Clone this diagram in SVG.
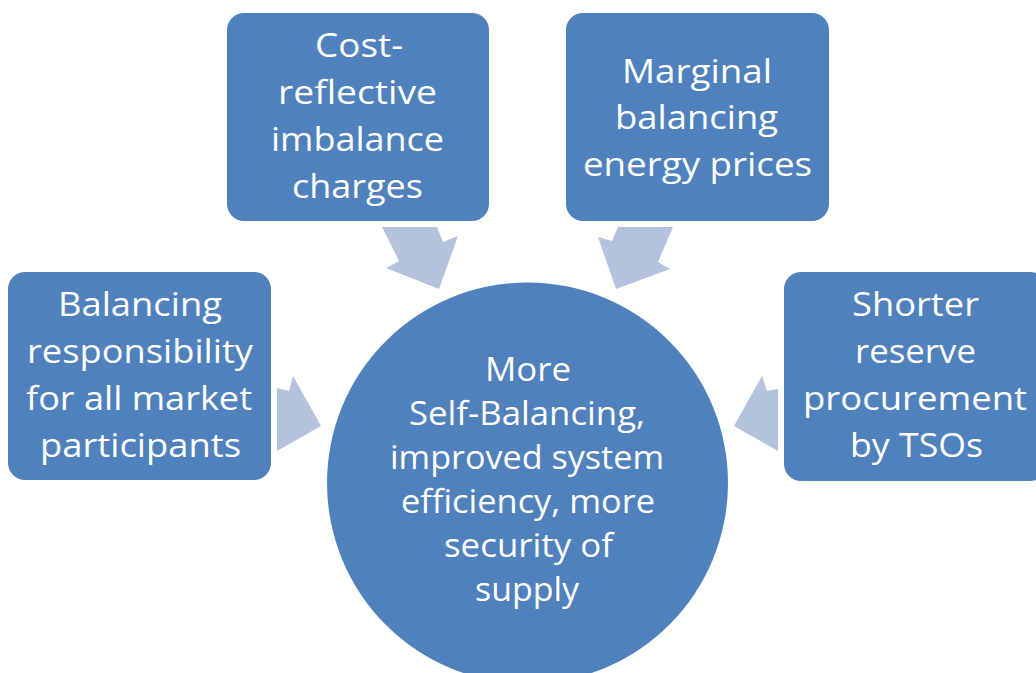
<svg xmlns="http://www.w3.org/2000/svg" width="1036" height="673" viewBox="0 0 1036 673">
  <style>
    .node { fill: #4f81bd; }
    .arrow { fill: #b3c2dd; }
    .label { font-family: "Open Sans", "Noto Sans", sans-serif; font-size: 32px; fill: #ffffff; lengthAdjust: spacingAndGlyphs; }
  </style>
  <rect width="1036" height="673" fill="#ffffff"/>

  <!-- block arrows pointing from each driver into the central outcome -->
  <g id="connectors">
    <polygon class="arrow" points="277,388 289,391 293,376 321,426 277,451"/>
    <polygon class="arrow" points="382,227 437,227 443,242 458,236 439,289 386,268 399,261"/>
    <polygon class="arrow" points="618,227 673,227 658,262 670,269 616,289 598,237 612,241"/>
    <polygon class="arrow" points="778,389 767,391 762,376 734,426 778,451"/>
  </g>

  <g id="node-responsibility">
    <rect class="node" x="8" y="272" width="263" height="208" rx="17"/>
    <text class="label" x="58" y="316" textLength="164" lengthAdjust="spacingAndGlyphs">Balancing</text>
    <text class="label" x="27" y="363" textLength="226" lengthAdjust="spacingAndGlyphs">responsibility</text>
    <text class="label" x="26" y="410" textLength="226" lengthAdjust="spacingAndGlyphs">for all market</text>
    <text class="label" x="40" y="457" textLength="201" lengthAdjust="spacingAndGlyphs">participants</text>
  </g>

  <g id="node-imbalance">
    <rect class="node" x="227" y="13" width="262" height="208" rx="17"/>
    <text class="label" x="315" y="57" textLength="88" lengthAdjust="spacingAndGlyphs">Cost-</text>
    <text class="label" x="278" y="104" textLength="159" lengthAdjust="spacingAndGlyphs">reflective</text>
    <text class="label" x="271" y="151" textLength="173" lengthAdjust="spacingAndGlyphs">imbalance</text>
    <text class="label" x="292" y="198" textLength="131" lengthAdjust="spacingAndGlyphs">charges</text>
  </g>

  <g id="node-marginal">
    <rect class="node" x="566" y="13" width="263" height="208" rx="17"/>
    <text class="label" x="622" y="83" textLength="150" lengthAdjust="spacingAndGlyphs">Marginal</text>
    <text class="label" x="615" y="129" textLength="163" lengthAdjust="spacingAndGlyphs">balancing</text>
    <text class="label" x="583" y="176" textLength="229" lengthAdjust="spacingAndGlyphs">energy prices</text>
  </g>

  <g id="node-reserve">
    <rect class="node" x="784" y="272" width="263" height="209" rx="17"/>
    <text class="label" x="852" y="316" textLength="127" lengthAdjust="spacingAndGlyphs">Shorter</text>
    <text class="label" x="855" y="363" textLength="121" lengthAdjust="spacingAndGlyphs">reserve</text>
    <text class="label" x="803" y="410" textLength="224" lengthAdjust="spacingAndGlyphs">procurement</text>
    <text class="label" x="850" y="457" textLength="133" lengthAdjust="spacingAndGlyphs">by TSOs</text>
  </g>

  <g id="node-outcome">
    <circle class="node" cx="527.5" cy="483" r="200.5"/>
    <text class="label" x="485" y="381" textLength="86" lengthAdjust="spacingAndGlyphs">More</text>
    <text class="label" x="409" y="425" textLength="236" lengthAdjust="spacingAndGlyphs">Self-Balancing,</text>
    <text class="label" x="390" y="469" textLength="274" lengthAdjust="spacingAndGlyphs">improved system</text>
    <text class="label" x="401" y="513" textLength="254" lengthAdjust="spacingAndGlyphs">efficiency, more</text>
    <text class="label" x="444" y="557" textLength="169" lengthAdjust="spacingAndGlyphs">security of</text>
    <text class="label" x="475" y="601" textLength="104" lengthAdjust="spacingAndGlyphs">supply</text>
  </g>
</svg>
